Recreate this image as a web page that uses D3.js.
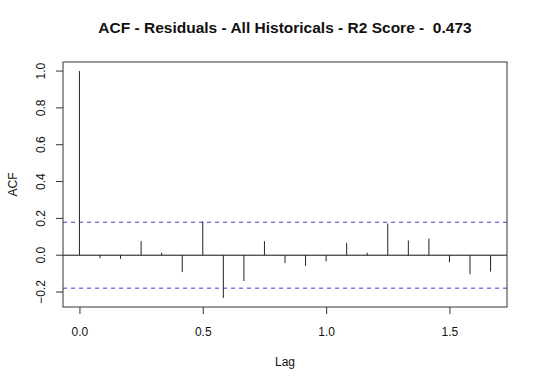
<!DOCTYPE html>
<html>
<head>
<meta charset="utf-8">
<script src="https://cdn.jsdelivr.net/npm/d3@7"></script>
<style>
  body { margin: 0; background: #fff; }
  svg { display: block; font-family: "Liberation Sans", Arial, sans-serif; }
</style>
</head>
<body>
<svg width="540" height="386"></svg>
<script>
"use strict";

// ACF values, lag in years (monthly steps)
var lags = d3.range(0, 21).map(function(k) { return k / 12; });
var acf = [1.0, -0.016, -0.02, 0.076, 0.014, -0.092, 0.183, -0.232, -0.14, 0.076,
           -0.042, -0.058, -0.033, 0.067, 0.013, 0.172, 0.08, 0.09, -0.038, -0.103, -0.089];
var ci = 0.179;
var xTicks = [0, 0.5, 1.0, 1.5];
var yTicks = [-0.2, 0, 0.2, 0.4, 0.6, 0.8, 1.0];

var svg = d3.select("svg"),
    margin = {top: 62, right: 33, bottom: 79, left: 63},
    width = 540 - margin.left - margin.right,
    height = 386 - margin.top - margin.bottom,
    g = svg.append("g").attr("transform", "translate(" + margin.left + "," + margin.top + ")");

// R style: extend data range by 4% each side
var xr = d3.extent(lags), yr = d3.extent(acf.concat([ci, -ci]));
var xp = (xr[1] - xr[0]) * 0.04, yp = (yr[1] - yr[0]) * 0.04;

var x = d3.scaleLinear().domain([xr[0] - xp, xr[1] + xp]).range([0, width]);
var y = d3.scaleLinear().domain([yr[0] - yp, yr[1] + yp]).range([height, 0]);

// dashed confidence bounds
g.selectAll(".ci")
  .data([ci, -ci])
  .enter().append("line")
    .attr("x1", 0).attr("x2", width)
    .attr("y1", function(d) { return y(d); })
    .attr("y2", function(d) { return y(d); })
    .attr("stroke", "#3a3ad6")
    .attr("stroke-width", 1)
    .attr("stroke-dasharray", "4,4");

// zero line
g.append("line")
  .attr("x1", 0).attr("x2", width)
  .attr("y1", y(0)).attr("y2", y(0))
  .attr("stroke", "#111");

// spikes
g.selectAll(".spike")
  .data(acf)
  .enter().append("line")
    .attr("x1", function(d, i) { return x(lags[i]); })
    .attr("x2", function(d, i) { return x(lags[i]); })
    .attr("y1", y(0))
    .attr("y2", function(d) { return y(d); })
    .attr("stroke", "#222")
    .attr("stroke-width", 1);

// box
g.append("rect")
  .attr("x", 0).attr("y", 0)
  .attr("width", width).attr("height", height)
  .attr("fill", "none")
  .attr("stroke", "#333");

var xAxis = g.append("g")
  .attr("transform", "translate(0," + height + ")")
  .call(d3.axisBottom(x).tickValues(xTicks).tickSize(7).tickPadding(13).tickFormat(d3.format(".1f")));
xAxis.select(".domain").remove();

var yAxis = g.append("g")
  .call(d3.axisLeft(y).tickValues(yTicks).tickSize(7).tickFormat(d3.format(".1f")));
yAxis.select(".domain").remove();
yAxis.selectAll("text")
  .attr("transform", function(d) { return "translate(-22," + y(d) + ") rotate(-90)"; })
  .attr("x", 0).attr("y", 0).attr("dy", "0.35em")
  .attr("text-anchor", "middle");
yAxis.selectAll(".tick").attr("transform", null);
yAxis.selectAll(".tick line")
  .attr("transform", function(d) { return "translate(0," + y(d) + ")"; });

g.selectAll(".tick text").attr("font-size", 12).attr("fill", "#111");
g.selectAll(".tick line").attr("stroke", "#333");

svg.append("text")
  .attr("x", margin.left + width / 2)
  .attr("y", 33)
  .attr("text-anchor", "middle")
  .attr("font-weight", "bold")
  .attr("font-size", 15.5)
  .attr("fill", "#111")
  .style("white-space", "pre")
  .text("ACF - Residuals - All Historicals - R2 Score -  0.473");

svg.append("text")
  .attr("x", margin.left + width / 2)
  .attr("y", 366)
  .attr("text-anchor", "middle")
  .attr("font-size", 12)
  .attr("fill", "#111")
  .text("Lag");

svg.append("text")
  .attr("transform", "translate(17," + (margin.top + height / 2) + ") rotate(-90)")
  .attr("text-anchor", "middle")
  .attr("font-size", 12)
  .attr("fill", "#111")
  .text("ACF");
</script>
</body>
</html>
